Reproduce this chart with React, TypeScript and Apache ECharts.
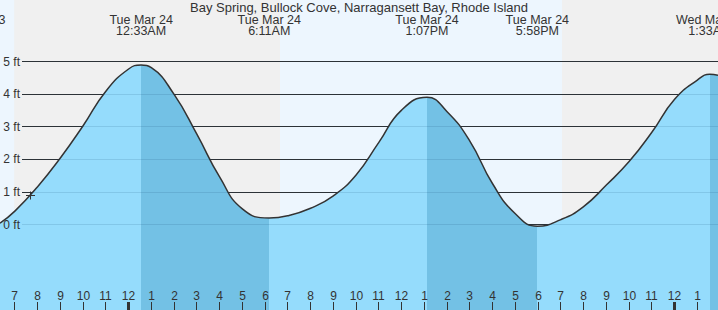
import React, { useEffect, useRef } from 'react';
import * as echarts from 'echarts';

const W = 718;
const H = 310;

const TITLE = 'Bay Spring, Bullock Cove, Narragansett Bay, Rhode Island';

// Hours relative to midnight starting Tue Mar 24, heights in feet
const tideHours = [-5.653, -5, -4, -3, -2, -1, 0, 0.55, 1, 2, 3, 4, 5, 6.183, 7, 8, 9, 10, 11, 12, 13.117, 14, 15, 16, 17, 17.967, 19, 20, 21, 22, 23, 24, 25, 25.55, 25.908];
const tideFeet = [0.04, 0.41, 1.16, 2.04, 3.03, 4.09, 4.77, 4.89, 4.81, 3.99, 2.77, 1.46, 0.48, 0.2, 0.27, 0.5, 0.88, 1.52, 2.52, 3.51, 3.9, 3.46, 2.56, 1.25, 0.33, -0.05, 0.15, 0.55, 1.21, 1.93, 2.83, 3.84, 4.43, 4.61, 4.58];

const eventHours = [-6.883, 0.55, 6.183, 13.117, 17.967, 25.55];
const eventDates = ['Mon Mar 23', 'Tue Mar 24', 'Tue Mar 24', 'Tue Mar 24', 'Tue Mar 24', 'Wed Mar 25'];
const eventTimes = ['5:07PM', '12:33AM', '6:11AM', '1:07PM', '5:58PM', '1:33AM'];

const ebbStarts = [0.55, 13.117, 25.55];
const ebbEnds = [6.183, 17.967, 30];

const nightStarts = [-5.03, 19.05];
const nightEnds = [6.655, 30];

const hourTicks = [-5, -4, -3, -2, -1, 0, 1, 2, 3, 4, 5, 6, 7, 8, 9, 10, 11, 12, 13, 14, 15, 16, 17, 18, 19, 20, 21, 22, 23, 24, 25];
const hourLabels = ['7', '8', '9', '10', '11', '12', '1', '2', '3', '4', '5', '6', '7', '8', '9', '10', '11', '12', '1', '2', '3', '4', '5', '6', '7', '8', '9', '10', '11', '12', '1'];
const midnightTicks = [0, 24];

const nowHour = [-4.333];
const nowFeet = [0.89];

const XMIN = -5.653;
const XMAX = 25.908;
const YMIN = -2.623;
const YMAX = 6.887;

const DAY_BG = '#edf6fe';
const NIGHT_BG = '#f0f0f0';
const FLOOD = '#95dcfc';
const EBB = '#73c1e5';
const TEXT = '#333';
const FONT = "'Liberation Sans', Arial, sans-serif";

export default function App() {
  const ref = useRef<HTMLDivElement>(null);

  useEffect(() => {
    document.body.style.margin = '0';
    const chart = echarts.init(ref.current!, null, { renderer: 'svg', width: W, height: H });

    const tideData = tideHours.map((h, i) => [h, tideFeet[i]]);
    const nightData = nightStarts.map((s, i) => [s, nightEnds[i]]);
    const eventData = eventHours.map((h, i) => [h, i]);
    const tickData = hourTicks.map((h, i) => [h, i]);
    const midData = midnightTicks.map((h) => [h, 0]);
    const nowData = nowHour.map((h, i) => [h, nowFeet[i]]);

    const option: any = {
      animation: false,
      backgroundColor: DAY_BG,
      title: {
        text: TITLE,
        left: 'center',
        top: 1,
        padding: 0,
        textStyle: { fontSize: 13, fontWeight: 'normal', color: TEXT, fontFamily: FONT },
      },
      grid: [
        { left: 0, right: 0, top: 0, bottom: 0 },
        { left: 22, right: 0, top: 61.5, bottom: 85.5 },
        { left: 22, right: 0, top: 61.5, bottom: 85.5 },
      ],
      xAxis: [0, 1, 2].map((i) => ({ type: 'value', gridIndex: i, min: XMIN, max: XMAX, show: false })),
      yAxis: [
        { type: 'value', gridIndex: 0, min: YMIN, max: YMAX, show: false },
        {
          type: 'value', gridIndex: 1, min: 0, max: 5, interval: 1, z: 1,
          axisLine: { show: false }, axisTick: { show: false }, axisLabel: { show: false },
          splitLine: { show: true, lineStyle: { color: '#333', width: 1 } },
        },
        {
          type: 'value', gridIndex: 2, min: 0, max: 5, interval: 1, z: 4,
          axisLine: { show: false }, axisTick: { show: false },
          axisLabel: { show: true, margin: 2, formatter: '{value} ft', color: TEXT, fontSize: 12, fontFamily: FONT },
          splitLine: { show: true, lineStyle: { color: 'rgba(0,50,90,0.12)', width: 1 } },
        },
      ],
      visualMap: {
        type: 'piecewise',
        show: false,
        dimension: 0,
        seriesIndex: 1,
        pieces: ebbStarts.map((s, i) => ({ gte: s, lt: ebbEnds[i], color: EBB })),
        outOfRange: { color: FLOOD },
      },
      series: [
        {
          type: 'custom',
          z: 0,
          silent: true,
          data: nightData,
          renderItem: (params: any, api: any) => {
            const a = api.coord([api.value(0), YMAX]);
            const b = api.coord([api.value(1), YMIN]);
            return {
              type: 'rect',
              shape: { x: a[0], y: a[1], width: b[0] - a[0], height: b[1] - a[1] },
              style: { fill: NIGHT_BG },
            };
          },
        },
        {
          type: 'line',
          z: 2,
          data: tideData,
          smooth: 0.5,
          showSymbol: false,
          symbol: 'none',
          lineStyle: { color: '#333', width: 1.5 },
          areaStyle: { opacity: 1, origin: 'start' },
        },
        {
          type: 'custom',
          z: 6,
          silent: true,
          data: tickData,
          renderItem: (params: any, api: any) => {
            const p = api.coord([api.value(0), YMIN]);
            const x = Math.floor(p[0]) + 0.5;
            return {
              type: 'group',
              children: [
                { type: 'line', shape: { x1: x, y1: p[1] - 8, x2: x, y2: p[1] }, style: { stroke: '#333', lineWidth: 1 } },
                {
                  type: 'text',
                  style: {
                    text: hourLabels[params.dataIndex], x: x, y: p[1] - 14.5,
                    align: 'center', verticalAlign: 'middle', fill: TEXT, fontSize: 12, fontFamily: FONT,
                  },
                },
              ],
            };
          },
        },
        {
          type: 'custom',
          z: 6,
          silent: true,
          data: midData,
          renderItem: (params: any, api: any) => {
            const p = api.coord([api.value(0), YMIN]);
            const x = Math.floor(p[0]) - 1;
            return { type: 'rect', shape: { x: x, y: p[1] - 8, width: 3, height: 8 }, style: { fill: '#333' } };
          },
        },
        {
          type: 'custom',
          z: 6,
          silent: true,
          data: nowData,
          renderItem: (params: any, api: any) => {
            const p = api.coord([api.value(0), api.value(1)]);
            const cx = Math.floor(p[0]) + 0.5;
            const cy = Math.floor(p[1]) + 0.5;
            return {
              type: 'group',
              children: [
                { type: 'line', shape: { x1: cx - 4.5, y1: cy, x2: cx + 4.5, y2: cy }, style: { stroke: '#333', lineWidth: 1 } },
                { type: 'line', shape: { x1: cx, y1: cy - 4, x2: cx, y2: cy + 4 }, style: { stroke: '#333', lineWidth: 1 } },
              ],
            };
          },
        },
        {
          type: 'custom',
          z: 7,
          silent: true,
          data: eventData,
          renderItem: (params: any, api: any) => {
            const p = api.coord([api.value(0), YMAX]);
            const i = params.dataIndex;
            return {
              type: 'group',
              children: [
                {
                  type: 'text',
                  style: { text: eventDates[i], x: p[0], y: p[1] + 19.5, align: 'center', verticalAlign: 'middle', fill: TEXT, fontSize: 12.5, fontFamily: FONT },
                },
                {
                  type: 'text',
                  style: { text: eventTimes[i], x: p[0], y: p[1] + 30.8, align: 'center', verticalAlign: 'middle', fill: TEXT, fontSize: 12.5, fontFamily: FONT },
                },
              ],
            };
          },
        },
      ],
    };

    chart.setOption(option);
    return () => chart.dispose();
  }, []);

  return <div ref={ref} style={{ position: 'fixed', left: 0, top: 0, width: W, height: H }} />;
}
